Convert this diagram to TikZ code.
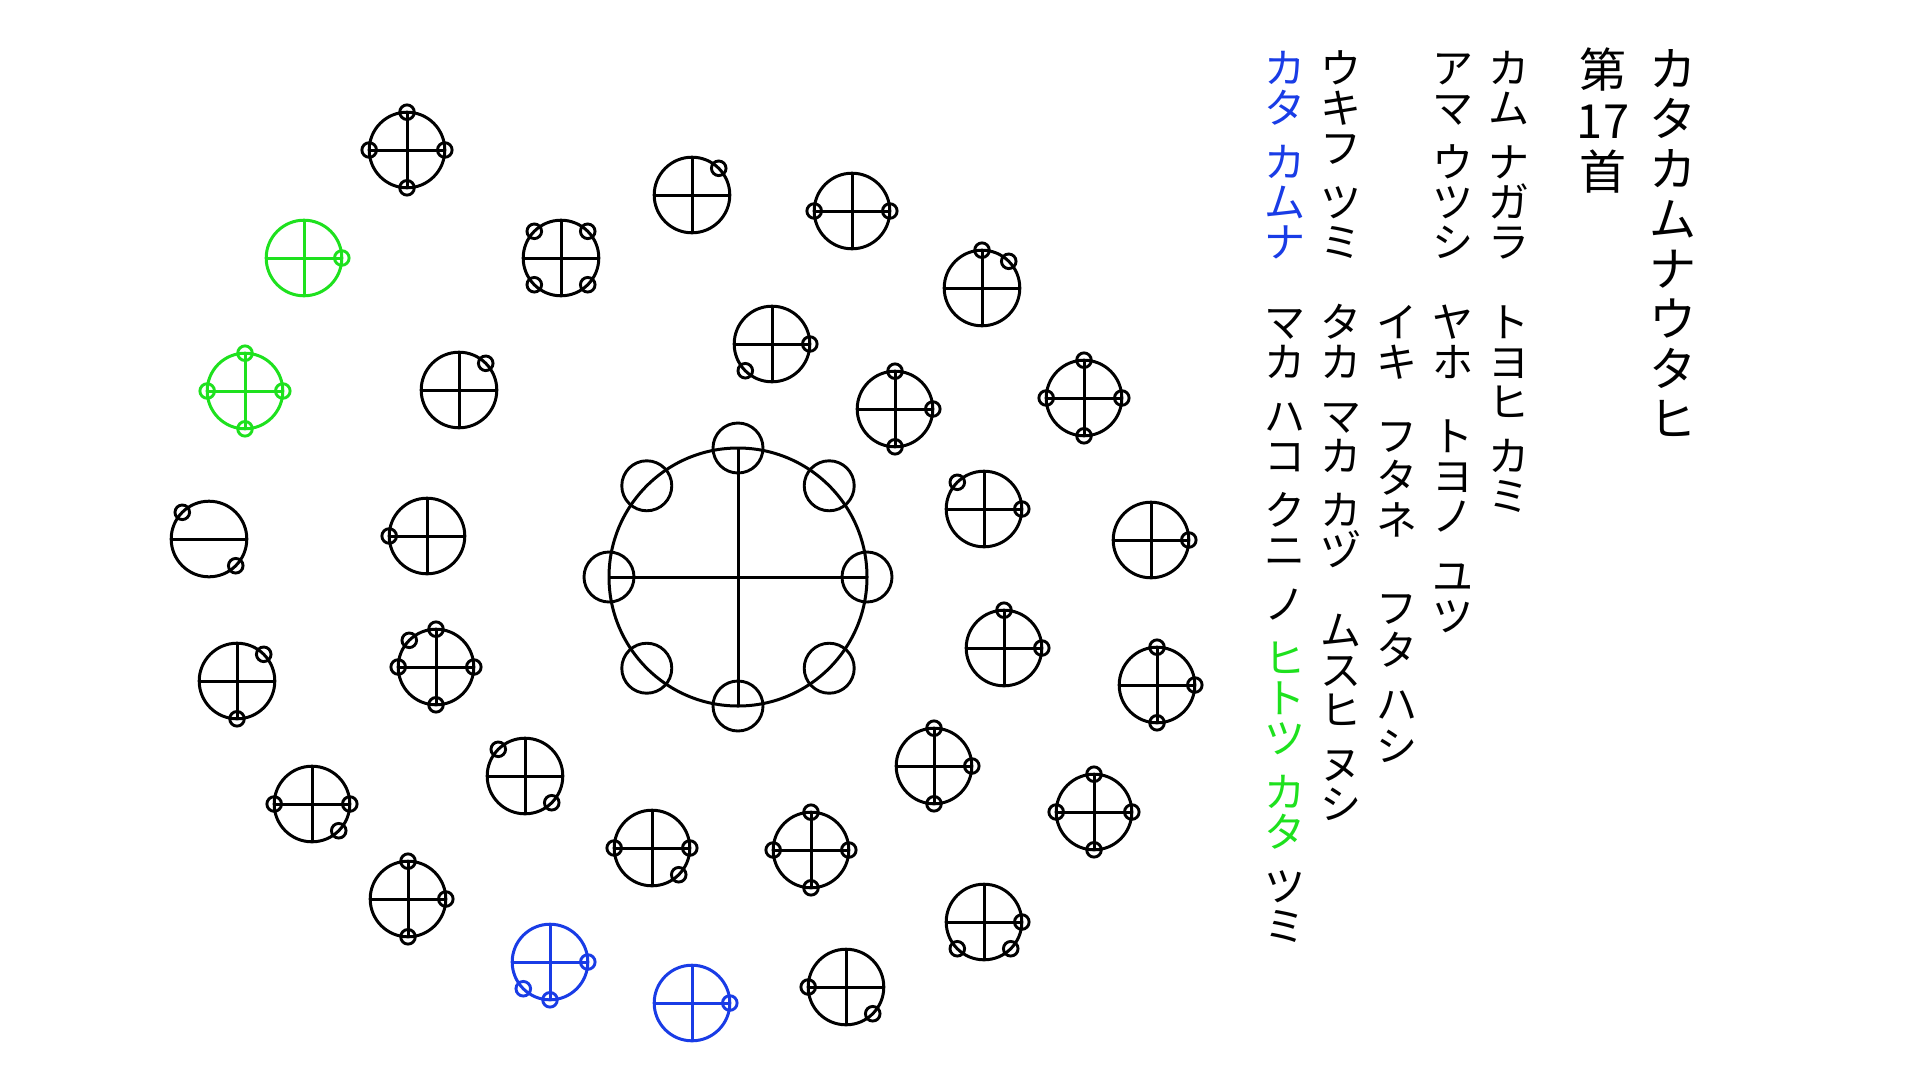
\documentclass[tikz,border=0pt]{standalone}
\usepackage{fontspec}
\newfontfamily\jp{Noto Sans CJK JP}
\usetikzlibrary{calc}
\definecolor{kgreen}{RGB}{30,225,30}
\definecolor{kblue}{RGB}{25,60,230}
\tikzset{
  bigc/.style={circle, minimum size=75.6pt, inner sep=0pt, outer sep=0pt, line width=3pt},
  smc/.style={circle, minimum size=14.6pt, inner sep=0pt, outer sep=0pt, line width=2.9pt},
  cline/.style={line width=3pt},
  jpt/.style={font=\jp\fontsize{41}{41}\selectfont, inner sep=0pt, text height=36pt, text depth=5pt},
  jtitle/.style={font=\jp\fontsize{47}{47}\selectfont, inner sep=0pt, text height=41.4pt, text depth=5.6pt},
}
% full-cross symbol: name, x, y, colour, angles of small circles
\newcommand\kSym[5]{%
  \node[bigc, draw=#4] (#1) at (#2,#3) {};
  \draw[cline, #4] ($(#1)+(-37.8,0)$) -- ($(#1)+(37.8,0)$);
  \draw[cline, #4] ($(#1)+(0,-37.8)$) -- ($(#1)+(0,37.8)$);
  \foreach \a in {#5} {\node[smc, draw=#4] (#1-\a) at ($(#1)+(\a:37.8)$) {};}
}
% horizontal-only symbol
\newcommand\kSymH[5]{%
  \node[bigc, draw=#4] (#1) at (#2,#3) {};
  \draw[cline, #4] ($(#1)+(-37.8,0)$) -- ($(#1)+(37.8,0)$);
  \foreach \a in {#5} {\node[smc, draw=#4] (#1-\a) at ($(#1)+(\a:37.8)$) {};}
}
\begin{document}
\begin{tikzpicture}[x=1pt,y=-1pt]
\useasboundingbox[fill=white] (0,0) rectangle (1920,1080);
% angles (y flipped): E=0, S=90, W=180, N=270, SE=45, SW=135, NW=225, NE=315
% central symbol
\node[circle, draw, minimum size=258pt, inner sep=0pt, outer sep=0pt, line width=3pt] (c0) at (738,577) {};
\draw[cline] ($(c0)+(-129,0)$) -- ($(c0)+(129,0)$);
\draw[cline] ($(c0)+(0,-129)$) -- ($(c0)+(0,129)$);
\foreach \a in {0,45,...,315} {\node[circle, draw, minimum size=50pt, inner sep=0pt, line width=2.9pt] (c0-\a) at ($(c0)+(\a:129)$) {};}
% small symbols
\kSym{s1}{407}{150}{black}{0,90,180,270}
\kSym{s2}{304}{258}{kgreen}{0}
\kSym{s3}{561}{258}{black}{45,135,225,315}
\kSym{s4}{245}{391}{kgreen}{0,90,180,270}
\kSym{s5}{459}{390}{black}{315}
\kSym{s6}{692}{195}{black}{315}
\kSym{s7}{852}{211}{black}{0,180}
\kSym{s8}{982}{288}{black}{270,315}
\kSym{s9}{772}{344}{black}{0,135}
\kSym{s10}{895}{409}{black}{0,90,270}
\kSym{s11}{1084}{398}{black}{0,90,180,270}
\kSym{s12}{984}{509}{black}{0,225}
\kSym{s13}{1151}{540}{black}{0}
\kSymH{s14}{209}{539}{black}{45,225}
\kSym{s15}{427}{536}{black}{180}
\kSym{s16}{237}{681}{black}{90,315}
\kSym{s17}{436}{667}{black}{0,90,180,225,270}
\kSym{s18}{312}{804}{black}{0,45,180}
\kSym{s19}{525}{776}{black}{45,225}
\kSym{s20}{408}{899}{black}{0,90,270}
\kSym{s21}{550}{962}{kblue}{0,90,135}
\kSym{s22}{692}{1003}{kblue}{0}
\kSym{s23}{652}{848}{black}{0,45,180}
\kSym{s24}{811}{850}{black}{0,90,180,270}
\kSym{s25}{846}{987}{black}{45,180}
\kSym{s26}{984}{922}{black}{0,45,135}
\kSym{s27}{1004}{648}{black}{0,270}
\kSym{s28}{1157}{685}{black}{0,90,270}
\kSym{s29}{934}{766}{black}{0,90,270}
\kSym{s30}{1094}{812}{black}{0,90,180,270}
% title columns
\foreach \yy/\cc [count=\i] in {69/カ,119/タ,169/カ,219/ム,269/ナ,319/ウ,369/タ,419/ヒ}
  {\node[jtitle] (tt\i) at (1673,\yy) {\cc};}
\foreach \yy/\cc [count=\i] in {70/第,121/17,172/首}
  {\node[jtitle] (tn\i) at (1603,\yy) {\cc};}
% column 1 (x=1509)
\foreach \yy/\cc [count=\i] in {68/カ,108/ム,162/ナ,202/ガ,242/ラ,322/ト,362/ヨ,402/ヒ,456/カ,496/ミ}
  {\node[jpt] (ca\i) at (1509,\yy) {\cc};}
% column 2 (x=1453)
\foreach \yy/\cc [count=\i] in {68/ア,108/マ,162/ウ,202/ツ,242/シ,322/ヤ,362/ホ,436/ト,476/ヨ,516/ノ,576/ユ,616/ツ}
  {\node[jpt] (cb\i) at (1453,\yy) {\cc};}
% column 3 (x=1397)
\foreach \yy/\cc [count=\i] in {322/イ,362/キ,436/フ,478/タ,520/ネ,608/フ,650/タ,704/ハ,746/シ}
  {\node[jpt] (cc\i) at (1397,\yy) {\cc};}
% column 4 (x=1341)
\foreach \yy/\cc [count=\i] in {68/ウ,108/キ,148/フ,202/ツ,242/ミ,322/タ,362/カ,416/マ,456/カ,510/カ,550/ヅ,630/ム,670/ス,710/ヒ,764/ヌ,804/シ}
  {\node[jpt] (cd\i) at (1341,\yy) {\cc};}
% column 5 (x=1285)
\foreach \yy/\cc [count=\i] in {68/カ,108/タ,162/カ,202/ム,242/ナ}
  {\node[jpt, text=kblue] (ce\i) at (1285,\yy) {\cc};}
\foreach \yy/\cc [count=\i] in {322/マ,362/カ,416/ハ,456/コ,510/ク,550/ニ,604/ノ}
  {\node[jpt] (cf\i) at (1285,\yy) {\cc};}
\foreach \yy/\cc [count=\i] in {658/ヒ,698/ト,738/ツ,792/カ,832/タ}
  {\node[jpt, text=kgreen] (cg\i) at (1285,\yy) {\cc};}
\foreach \yy/\cc [count=\i] in {886/ツ,926/ミ}
  {\node[jpt] (ch\i) at (1285,\yy) {\cc};}
\end{tikzpicture}
\end{document}
